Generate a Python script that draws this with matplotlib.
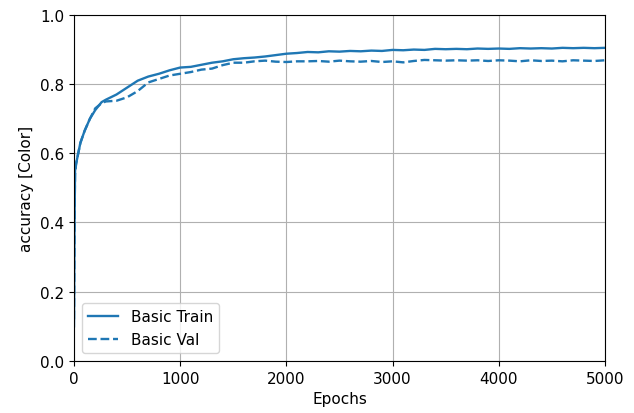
import matplotlib
matplotlib.use('Agg')
import matplotlib.pyplot as plt

epochs = [0, 5, 10, 20, 40, 60, 100, 150, 200, 260, 300, 400, 500, 600, 700, 800, 900,
          1000, 1100, 1200, 1300, 1400, 1500, 1600, 1700, 1800, 1900,
          2000, 2100, 2200, 2300, 2400, 2500, 2600, 2700, 2800, 2900,
          3000, 3100, 3200, 3300, 3400, 3500, 3600, 3700, 3800, 3900,
          4000, 4100, 4200, 4300, 4400, 4500, 4600, 4700, 4800, 4900, 5000]

train_acc = [0.10, 0.40, 0.55, 0.57, 0.60, 0.63, 0.665, 0.70, 0.725, 0.748, 0.755, 0.77, 0.79,
             0.81, 0.822, 0.83, 0.84,
             0.848, 0.850, 0.856, 0.862, 0.866, 0.872, 0.875, 0.877, 0.880, 0.884,
             0.888, 0.890, 0.893, 0.892, 0.895, 0.894, 0.896, 0.895, 0.897, 0.896,
             0.899, 0.898, 0.900, 0.899, 0.902, 0.901, 0.902, 0.901, 0.903, 0.902,
             0.903, 0.902, 0.904, 0.903, 0.904, 0.903, 0.905, 0.904, 0.905, 0.904, 0.905]

val_acc = [0.12, 0.40, 0.54, 0.57, 0.60, 0.63, 0.665, 0.70, 0.73, 0.745, 0.750, 0.752, 0.762,
           0.780, 0.805, 0.815, 0.825,
           0.830, 0.835, 0.842, 0.845, 0.855, 0.862, 0.862, 0.866, 0.868, 0.865,
           0.864, 0.866, 0.866, 0.867, 0.865, 0.868, 0.866, 0.865, 0.867, 0.864,
           0.866, 0.863, 0.867, 0.870, 0.869, 0.868, 0.869, 0.868, 0.869, 0.867,
           0.869, 0.868, 0.866, 0.869, 0.867, 0.868, 0.866, 0.869, 0.868, 0.867, 0.869]

color = '#1f77b4'
plt.rcParams['font.size'] = 11

fig = plt.figure(figsize=(6.34, 4.14), dpi=100)
ax = fig.add_axes([0.1167, 0.126, 0.8375, 0.8354])

ax.plot(epochs, train_acc, color=color, lw=1.7, label='Basic Train')
ax.plot(epochs, val_acc, '--', color=color, lw=1.7, label='Basic Val')

ax.set_xlim(0, 5000)
ax.set_ylim(0, 1)
ax.set_xlabel('Epochs')
ax.set_ylabel('accuracy [Color]')
ax.grid(True)
ax.legend(loc='lower left')

fig.savefig('out.png', dpi=100)
